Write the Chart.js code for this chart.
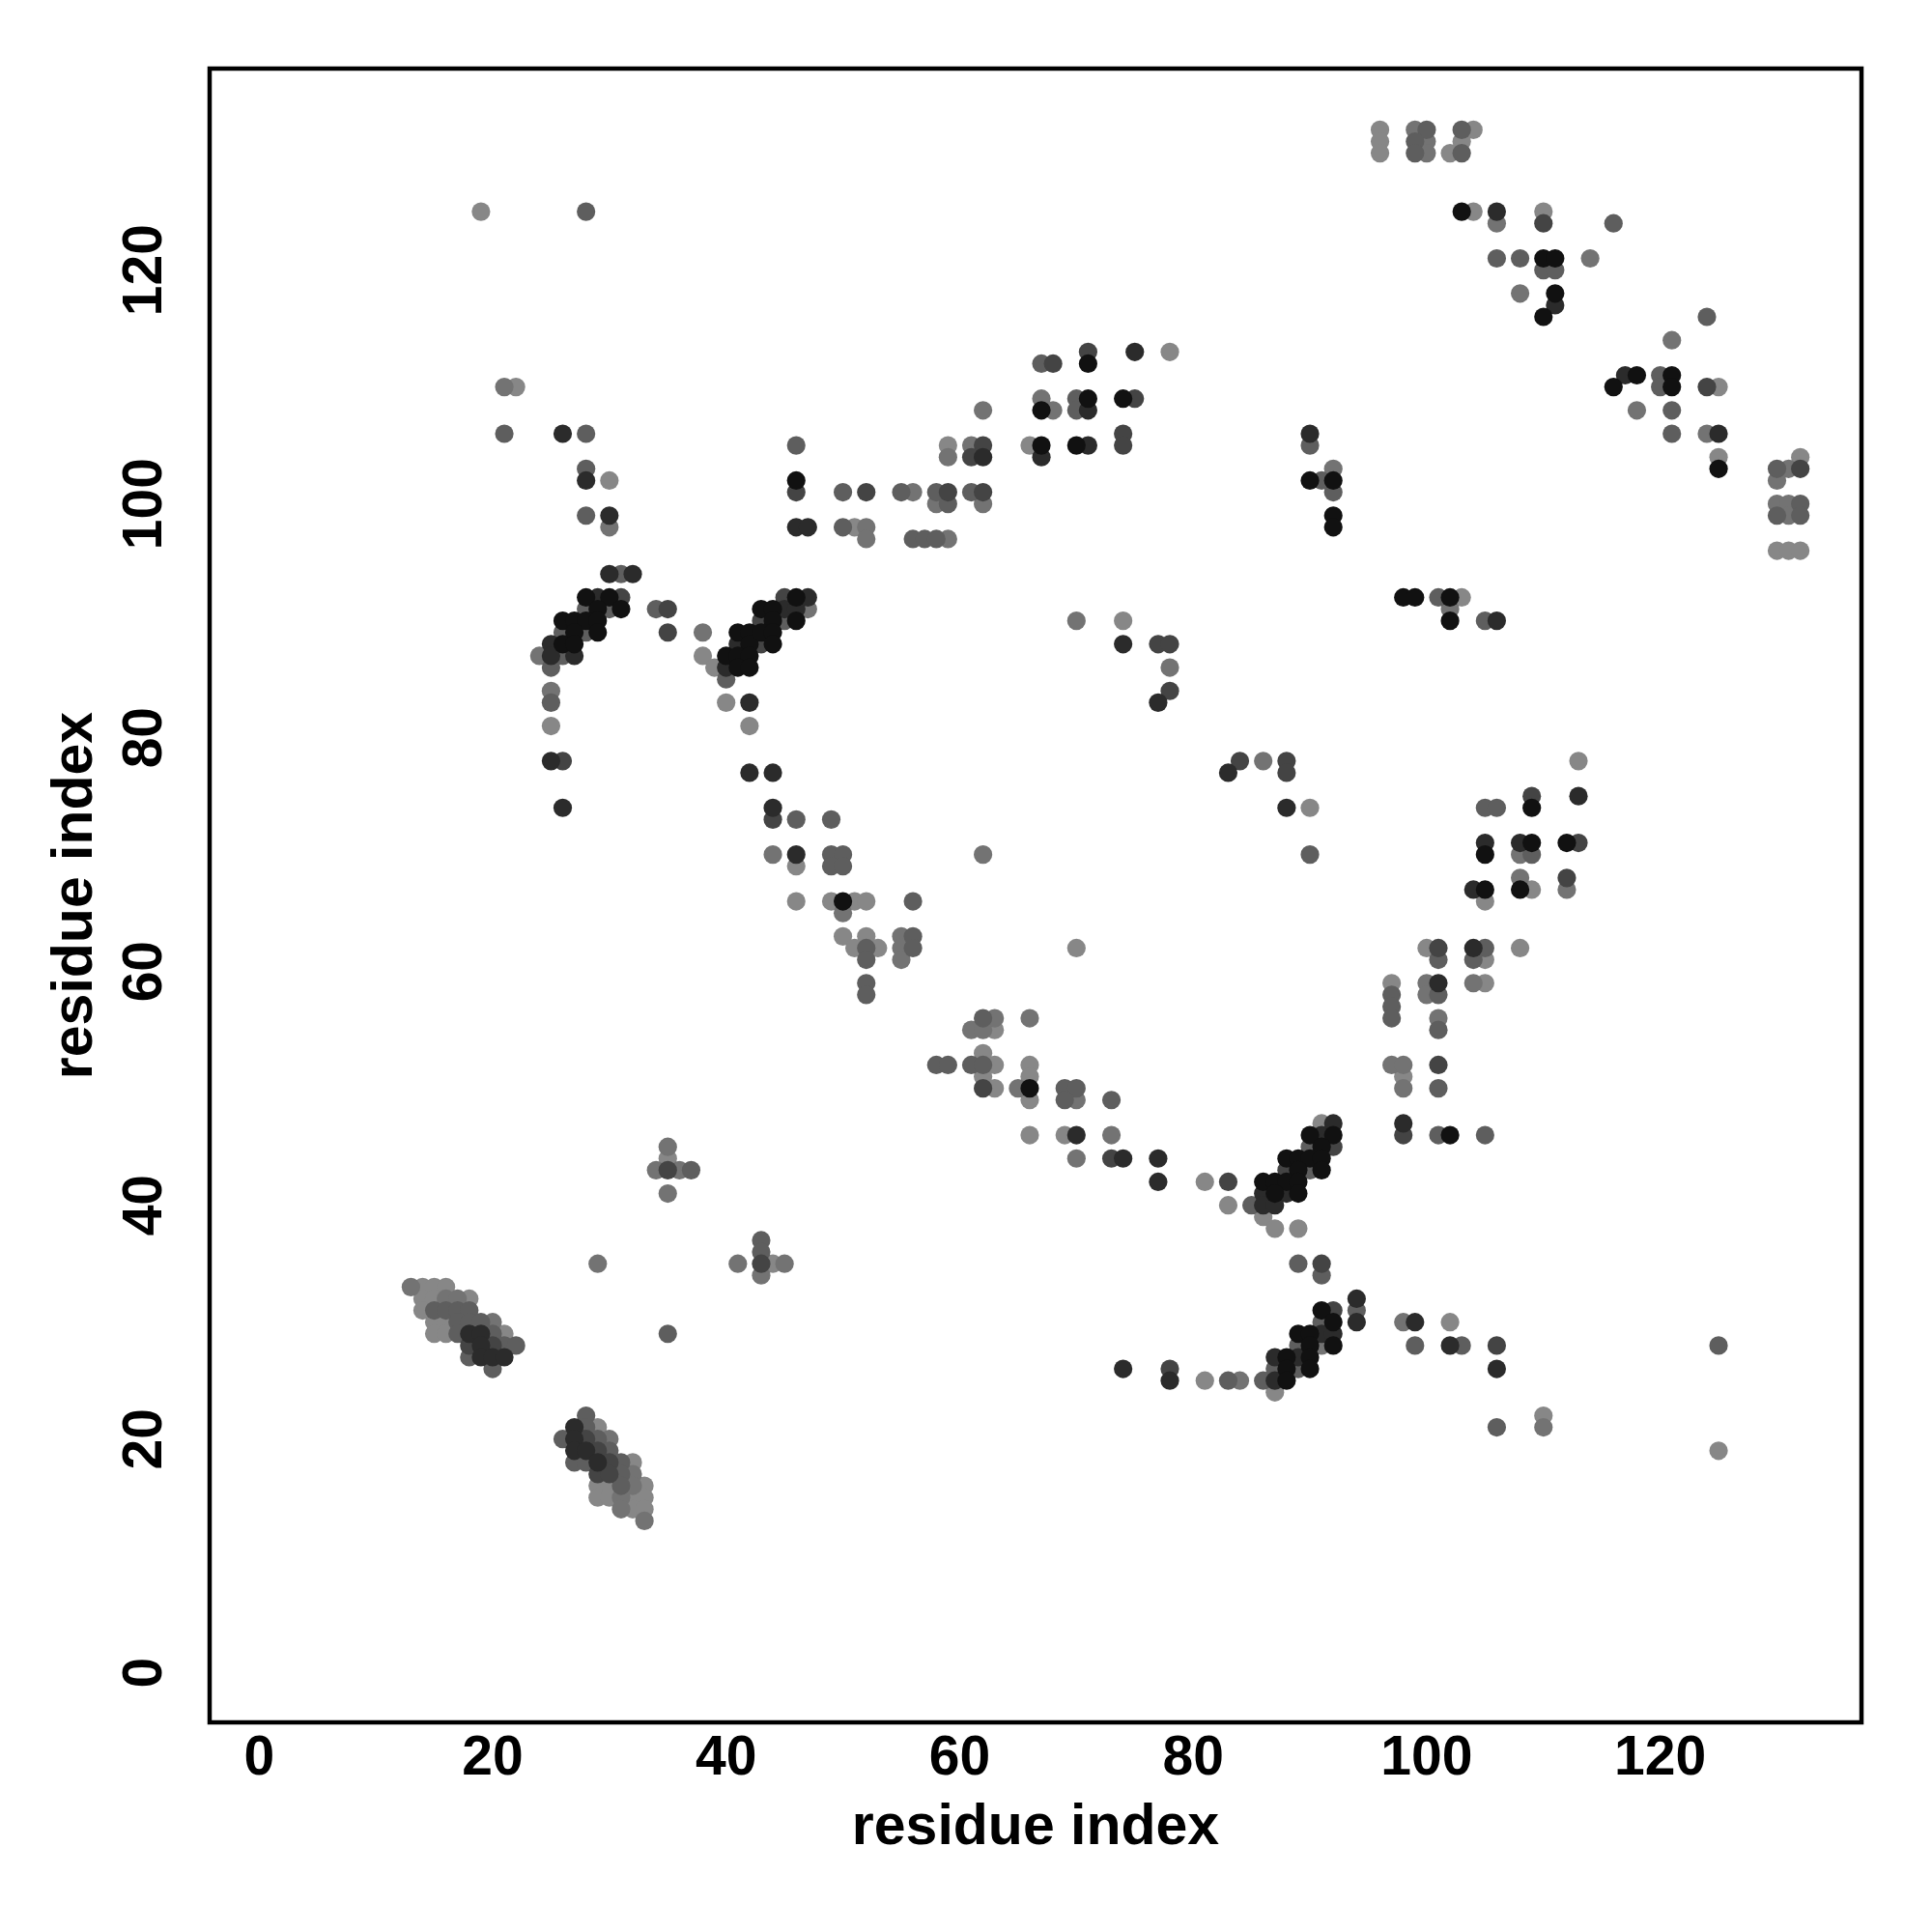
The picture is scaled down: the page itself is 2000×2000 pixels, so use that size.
<!DOCTYPE html>
<html>
<head>
<meta charset="utf-8">
<script src="https://cdn.jsdelivr.net/npm/chart.js@4.4.1/dist/chart.umd.min.js"></script>
<style>
  html, body { margin: 0; padding: 0; background: #fff; }
  #wrap { width: 2000px; height: 2000px; }
</style>
</head>
<body>
<div id="wrap"><canvas id="contactMap" width="2000" height="2000"></canvas></div>
<script>
// residue contact pairs [i, j], grouped by shade (darkest first)
var shadeBlack = [
  [46,102],[71,112],[67,108],[71,109],[74,109],[67,105],[70,105],[90,102],[92,102],[92,99],[92,98],
  [103,125],[110,121],[111,121],[111,118],[110,116],[118,111],[116,110],[121,111],[121,110],[125,103],
  [28,92],[30,92],[29,91],[31,91],[26,90],[27,90],[28,90],[29,90],[27,89],[29,89],[26,88],[27,88],
  [40,87],[41,89],[42,89],[42,88],[41,87],[42,87],[41,86],[42,86],[43,91],[44,91],[44,90],[43,89],
  [44,89],[44,88],[46,92],[46,90],[50,66],[66,50],
  [90,46],[92,46],[91,45],[88,44],[89,44],[90,44],[91,44],[89,43],[91,43],[86,42],[87,42],[88,42],
  [89,42],[87,41],[89,41],[91,31],[92,30],[89,29],[90,29],[90,28],[92,28],[88,27],[90,27],[88,26],
  [90,26],[88,25],[102,46],
  [98,92],[99,92],[102,92],[102,90],[109,74],[105,70],[109,71],[112,71],[108,67],[105,67]
];
var shadeDark = [
  [26,106],[28,102],[30,99],[30,94],[32,94],[46,98],[47,98],
  [75,113],[71,108],[62,104],[67,104],[71,105],[90,106],[106,125],[111,117],[117,111],[125,106],
  [29,92],[25,88],[25,87],[27,87],[25,78],[26,74],[40,86],[41,88],[47,92],[45,91],[46,91],
  [42,83],[42,77],[44,77],[44,74],[46,70],
  [74,88],[77,83],[83,77],[88,74],
  [70,46],[74,44],[77,44],[77,42],[92,47],[91,46],[86,41],[88,41],[86,40],[87,40],
  [94,32],[94,30],[91,29],[92,29],[87,27],[89,27],[87,25],[78,25],[74,26],
  [98,47],[99,30],[102,28],[106,26],
  [106,90],[113,75],[105,71],[108,71],[104,67],[104,62],[101,59],
  [18,29],[19,29],[19,28],[19,27],[20,27],[21,27],[27,21],[27,20],[27,19],[28,19],[29,18]
];
var shadeDarkGrey = [
  [46,101],[52,101],[68,112],[71,113],[75,109],[62,105],[61,104],[74,106],[74,105],[59,101],[62,101],
  [110,124],[124,110],[132,103],
  [31,92],[26,78],[35,91],[35,89],[43,90],[43,88],[45,92],[44,73],
  [77,88],[78,88],[78,84],[84,78],[88,78],[88,77],[62,50],[73,44],[83,42],
  [92,45],[88,43],[91,35],[92,31],[78,26],[101,52],[98,46],[106,28],
  [109,75],[113,71],[112,68],[101,62],
  [35,43],[43,35],[18,28],[20,28],[28,20],[29,19],[30,18],[29,17],[30,17]
];
var shadeGrey = [
  [28,125],[21,106],[28,106],[28,103],[28,99],[31,94],[46,105],[50,101],[50,98],
  [67,112],[70,109],[70,108],[90,105],[91,102],[92,101],[55,101],[58,101],[59,100],[61,101],
  [56,97],[57,97],[58,97],
  [100,132],[99,131],[99,130],[103,132],[103,130],[116,124],[106,121],[108,121],[110,120],[111,120],
  [124,116],[120,111],[120,110],[121,108],[121,106],[130,103],[132,100],[130,99],[132,99],
  [28,91],[30,91],[26,89],[28,89],[26,87],[25,86],[25,83],[40,85],[45,90],[34,91],
  [46,73],[49,73],[49,70],[50,70],[49,69],[50,69],[52,62],[52,61],[52,59],[52,58],
  [90,70],[56,66],[56,63],[56,62],[62,56],
  [58,52],[59,52],[61,52],[62,52],[69,50],[70,50],[69,49],[73,49],[85,40],[90,45],[90,43],
  [89,35],[91,34],[94,31],[91,30],[89,28],[87,26],[89,26],[86,25],[83,25],
  [101,50],[101,46],[105,46],[99,28],[103,28],[106,21],[125,28],
  [101,92],[105,90],[105,74],[106,74],[109,70],[101,61],[105,62],[104,61],[97,58],[97,57],[97,56],
  [101,58],[101,55],
  [37,43],[43,37],[43,36],[35,29],[15,31],[16,31],[17,31],[18,31],[17,30],[18,30],[19,30],[17,29],
  [20,29],[21,28],[22,28],[18,27],[20,26],[28,22],[28,21],[26,20],[29,20],[30,19],[27,18],[28,18],
  [31,18],[31,17],[31,16]
];
var shadeLightGrey = [
  [21,110],[30,98],[52,98],[52,97],
  [62,108],[67,109],[68,108],[59,104],[61,105],[92,103],[56,101],[58,100],[62,100],[59,97],
  [99,132],[100,131],[100,130],[106,124],[114,121],[108,118],[121,114],[118,108],[124,106],[131,103],
  [130,102],[130,100],[131,100],[131,99],
  [24,87],[25,84],[38,89],[47,91],[44,70],[50,65],
  [70,90],[78,86],[86,78],[62,70],[55,63],[55,62],[55,61],[63,56],[61,55],[62,55],[66,56],
  [65,50],[70,49],[73,46],[70,44],[84,25],[91,28],
  [97,52],[98,52],[98,50],[98,30],[110,21],
  [102,91],[108,70],[108,68],[112,67],[100,59],[100,58],[104,59],[101,56],
  [35,45],[34,43],[36,43],[35,41],[29,35],[41,35],[45,35],[43,34],
  [13,33],[16,32],[17,32],[20,30],[30,20],[32,17],[32,16],[31,15],[31,14],[33,13]
];
var shadePale = [
  [19,125],[22,110],[30,102],[51,98],
  [78,113],[59,105],[66,105],
  [96,132],[96,131],[96,130],[104,132],[103,131],[102,130],[104,125],[110,125],[125,110],[125,104],
  [132,104],[130,96],[131,96],[132,96],
  [25,81],[38,87],[39,86],[40,83],[42,81],[46,69],[46,66],[49,66],[51,66],[52,66],[50,63],[52,63],
  [51,62],[53,62],
  [74,90],[90,74],[70,62],[63,55],[62,53],
  [63,52],[66,52],[62,51],[66,51],[63,50],[66,49],[66,46],[69,46],[81,42],[83,40],
  [91,47],[86,39],[87,38],[89,38],[87,24],[81,25],
  [98,51],[102,30],[110,22],[125,19],
  [103,92],[113,78],[109,67],[105,66],[100,62],[105,61],[108,62],[97,59],[105,59],
  [35,44],[44,35],
  [14,33],[15,33],[16,33],[14,32],[15,32],[18,32],[14,31],[15,30],[16,30],[15,29],[16,29],[21,29],
  [29,21],[32,18],[29,16],[30,16],[33,16],[29,15],[30,15],[32,15],[33,15],[32,14],[33,14]
];

var xTicks = [0, 20, 40, 60, 80, 100, 120];
var yTicks = [0, 20, 40, 60, 80, 100, 120];
var axisTitle = 'residue index';

var shades = [
  { pts: shadeBlack, color: '#111111' },
  { pts: shadeDark, color: '#2b2b2b' },
  { pts: shadeDarkGrey, color: '#444444' },
  { pts: shadeGrey, color: '#5e5e5e' },
  { pts: shadeLightGrey, color: '#737373' },
  { pts: shadePale, color: '#878787' }
];

var FONT = '"Liberation Sans", Arial, Helvetica, sans-serif';

// box, tick labels and axis titles drawn R-style
var framePlugin = {
  id: 'frame',
  afterDraw: function(chart) {
    var ctx = chart.ctx;
    var a = chart.chartArea;
    var xs = chart.scales.x, ys = chart.scales.y;
    ctx.save();
    ctx.strokeStyle = '#000';
    ctx.lineWidth = 4.5;
    ctx.strokeRect(a.left, a.top, a.right - a.left, a.bottom - a.top);

    ctx.fillStyle = '#000';
    ctx.font = 'bold 57px ' + FONT;
    ctx.textAlign = 'center';
    ctx.textBaseline = 'middle';
    xTicks.forEach(function(t) {
      ctx.fillText(String(t), xs.getPixelForValue(t), a.bottom + 38);
    });
    yTicks.forEach(function(t) {
      ctx.save();
      ctx.translate(a.left - 66, ys.getPixelForValue(t));
      ctx.rotate(-Math.PI / 2);
      ctx.fillText(String(t), 0, 0);
      ctx.restore();
    });

    ctx.font = 'bold 59px ' + FONT;
    ctx.fillText(axisTitle, (a.left + a.right) / 2, a.bottom + 110);
    ctx.save();
    ctx.translate(a.left - 138, (a.top + a.bottom) / 2);
    ctx.rotate(-Math.PI / 2);
    ctx.fillText(axisTitle, 0, 0);
    ctx.restore();
    ctx.restore();
  }
};

var datasets = shades.map(function(s) {
  return {
    data: s.pts.map(function(p) { return { x: p[0], y: p[1] }; }),
    backgroundColor: s.color,
    borderWidth: 0,
    pointRadius: 9.6,
    pointHoverRadius: 9.6
  };
});

new Chart(document.getElementById('contactMap').getContext('2d'), {
  type: 'scatter',
  data: { datasets: datasets },
  options: {
    responsive: false,
    animation: false,
    devicePixelRatio: 1,
    layout: { padding: { left: 217, top: 71, right: 73, bottom: 217 } },
    plugins: {
      legend: { display: false },
      tooltip: { enabled: false }
    },
    scales: {
      x: { type: 'linear', display: false, min: -4.24, max: 137.24 },
      y: { type: 'linear', display: false, min: -4.24, max: 137.24 }
    }
  },
  plugins: [framePlugin]
});
</script>
</body>
</html>
